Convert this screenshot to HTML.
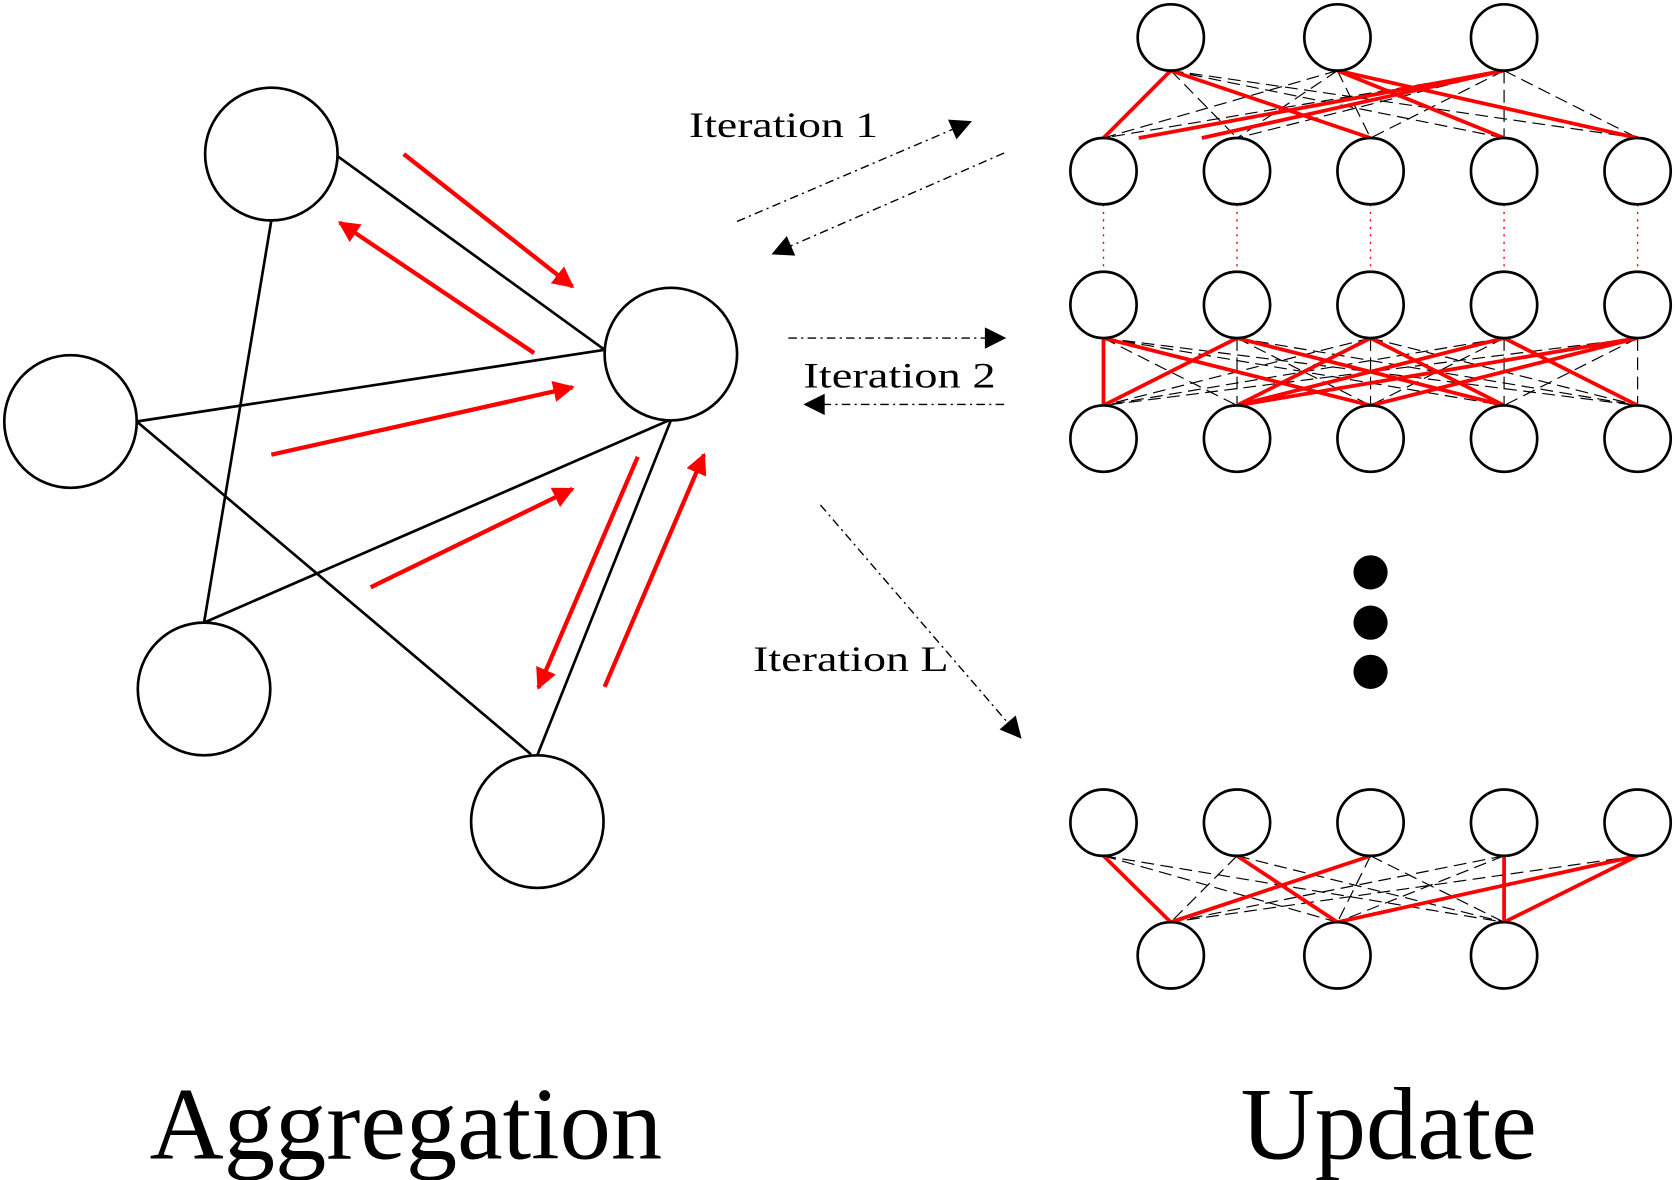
<!DOCTYPE html>
<html><head><meta charset="utf-8"><style>
html,body{margin:0;padding:0;background:#fff;}
svg{display:block;}
text{font-family:"Liberation Serif",serif;fill:#000;}
</style></head><body>
<svg width="1675" height="1180" viewBox="0 0 1568 1103" preserveAspectRatio="none" xmlns="http://www.w3.org/2000/svg">
<defs>
<marker id="ar" viewBox="0 0 10 10" refX="9" refY="5" markerWidth="5" markerHeight="5" orient="auto-start-reverse"><path d="M0,0 L10,5 L0,10 z" fill="#f00"/></marker>
<marker id="akb" viewBox="0 0 10 10" refX="9" refY="5" markerWidth="26" markerHeight="20" markerUnits="userSpaceOnUse" orient="auto"><path d="M0,0 L10,5 L0,10 z" fill="#000"/></marker>
</defs>
<g stroke="#000" stroke-width="2.5" fill="none">
<line x1="316" y1="146" x2="566" y2="327"/>
<line x1="254" y1="206" x2="191" y2="582"/>
<line x1="128" y1="394" x2="566" y2="327"/>
<line x1="128" y1="394" x2="497" y2="705"/>
<line x1="191" y1="582" x2="626" y2="393"/>
<line x1="503" y1="706" x2="628" y2="393"/>
</g>
<g stroke="#000" stroke-width="2.5" fill="#fff">
<circle cx="254" cy="144" r="62"/>
<circle cx="66" cy="394" r="62"/>
<circle cx="191" cy="644" r="62"/>
<circle cx="503" cy="768" r="62"/>
<circle cx="628" cy="331" r="62"/>
</g>
<g stroke="#f00" stroke-width="4" fill="none" marker-end="url(#ar)">
<line x1="378" y1="144" x2="536" y2="268"/>
<line x1="500" y1="330" x2="318" y2="208"/>
<line x1="254" y1="425" x2="536" y2="362"/>
<line x1="347" y1="549" x2="536" y2="457"/>
<line x1="597" y1="427" x2="504" y2="643"/>
<line x1="566" y1="642" x2="659" y2="425"/>
</g>
<g stroke="#000" stroke-width="1.3" fill="none" stroke-dasharray="8,4,2,4" marker-end="url(#akb)">
<line x1="690" y1="207" x2="908" y2="114"/>
<line x1="940" y1="143" x2="724" y2="237"/>
<line x1="738" y1="316" x2="940" y2="316"/>
<line x1="940" y1="378" x2="754" y2="378"/>
<line x1="768" y1="472" x2="955" y2="689"/>
</g>
<text x="645" y="128" font-size="34" textLength="177" lengthAdjust="spacingAndGlyphs">Iteration 1</text>
<text x="752" y="362" font-size="34" textLength="180" lengthAdjust="spacingAndGlyphs">Iteration 2</text>
<text x="705" y="627" font-size="34" textLength="183" lengthAdjust="spacingAndGlyphs">Iteration L</text>
<text x="380" y="1083" font-size="96" text-anchor="middle">Aggregation</text>
<text x="1300" y="1083" font-size="96" text-anchor="middle">Update</text>
<g stroke="#000" stroke-width="1.1" stroke-dasharray="12,6" fill="none">
<path d="M1096 66L1033 129M1096 66L1158 129M1096 66L1283 129M1096 66L1408 129M1096 66L1533 129
M1252 66L1033 129M1252 66L1158 129M1252 66L1283 129M1252 66L1408 129M1252 66L1533 129
M1408 66L1033 129M1408 66L1158 129M1408 66L1283 129M1408 66L1408 129M1408 66L1533 129"/>
<path d="M1033 316L1033 379M1033 316L1158 379M1033 316L1283 379M1033 316L1408 379M1033 316L1533 379
M1158 316L1033 379M1158 316L1158 379M1158 316L1283 379M1158 316L1408 379M1158 316L1533 379
M1283 316L1033 379M1283 316L1158 379M1283 316L1283 379M1283 316L1408 379M1283 316L1533 379
M1408 316L1033 379M1408 316L1158 379M1408 316L1283 379M1408 316L1408 379M1408 316L1533 379
M1533 316L1033 379M1533 316L1158 379M1533 316L1283 379M1533 316L1408 379M1533 316L1533 379"/>
<path d="M1033 800L1096 862M1033 800L1252 862M1033 800L1408 862
M1158 800L1096 862M1158 800L1252 862M1158 800L1408 862
M1283 800L1096 862M1283 800L1252 862M1283 800L1408 862
M1408 800L1096 862M1408 800L1252 862M1408 800L1408 862
M1533 800L1096 862M1533 800L1252 862M1533 800L1408 862"/>
</g>
<g stroke="#f00" stroke-width="1.3" stroke-dasharray="2,5">
<line x1="1033" y1="191" x2="1033" y2="254"/>
<line x1="1158" y1="191" x2="1158" y2="254"/>
<line x1="1283" y1="191" x2="1283" y2="254"/>
<line x1="1408" y1="191" x2="1408" y2="254"/>
<line x1="1533" y1="191" x2="1533" y2="254"/>
</g>
<g stroke="#f00" stroke-width="3.5" fill="none">
<path d="M1096 66L1033 129M1096 66L1283 129M1252 66L1408 129M1252 66L1533 129M1408 66L1066 129M1408 66L1125 129"/>
<path d="M1033 316L1033 379M1033 316L1283 379M1158 316L1408 379M1158 316L1033 379M1283 316L1158 379M1283 316L1408 379M1408 316L1158 379M1408 316L1533 379M1533 316L1283 379M1533 316L1158 379"/>
<path d="M1033 800L1096 862M1158 800L1252 862M1096 862L1283 800M1252 862L1533 800M1408 800L1408 862M1408 862L1533 800"/>
</g>
<g stroke="#000" stroke-width="2.5" fill="#fff">
<circle cx="1096" cy="35" r="31"/><circle cx="1252" cy="35" r="31"/><circle cx="1408" cy="35" r="31"/>
<circle cx="1033" cy="160" r="31"/><circle cx="1158" cy="160" r="31"/><circle cx="1283" cy="160" r="31"/><circle cx="1408" cy="160" r="31"/><circle cx="1533" cy="160" r="31"/>
<circle cx="1033" cy="285" r="31"/><circle cx="1158" cy="285" r="31"/><circle cx="1283" cy="285" r="31"/><circle cx="1408" cy="285" r="31"/><circle cx="1533" cy="285" r="31"/>
<circle cx="1033" cy="410" r="31"/><circle cx="1158" cy="410" r="31"/><circle cx="1283" cy="410" r="31"/><circle cx="1408" cy="410" r="31"/><circle cx="1533" cy="410" r="31"/>
<circle cx="1033" cy="769" r="31"/><circle cx="1158" cy="769" r="31"/><circle cx="1283" cy="769" r="31"/><circle cx="1408" cy="769" r="31"/><circle cx="1533" cy="769" r="31"/>
<circle cx="1096" cy="893" r="31"/><circle cx="1252" cy="893" r="31"/><circle cx="1408" cy="893" r="31"/>
</g>
<g fill="#000">
<circle cx="1283" cy="535" r="16"/><circle cx="1283" cy="582" r="16"/><circle cx="1283" cy="628" r="16"/>
</g>
</svg>
</body></html>
